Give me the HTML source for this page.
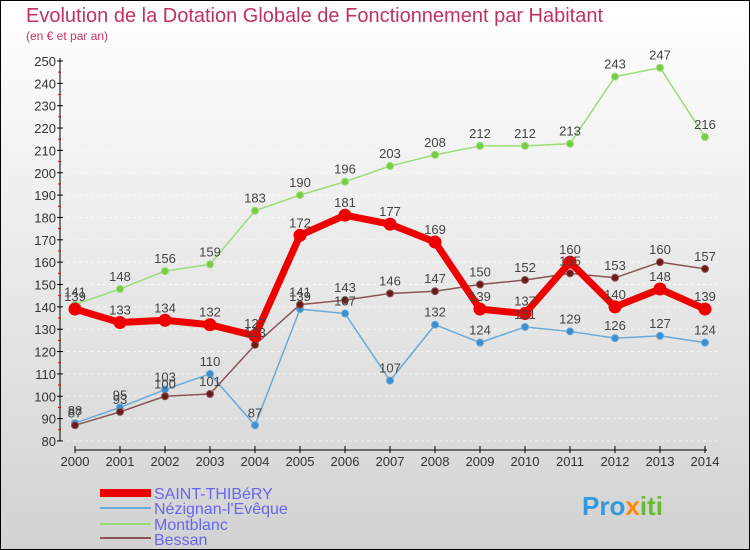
<!DOCTYPE html>
<html><head><meta charset="utf-8"><style>
body{margin:0;}
#c{width:750px;height:550px;position:relative;overflow:hidden;font-family:"Liberation Sans",sans-serif;}
</style></head><body>
<div id="c">
<svg id="s" width="750" height="550" xmlns="http://www.w3.org/2000/svg">
<defs><linearGradient id="bg" x1="0" y1="0" x2="0" y2="1"><stop offset="0" stop-color="#ffffff"/><stop offset="1" stop-color="#d2d2d2"/></linearGradient></defs>
<rect x="0.5" y="0.5" width="749" height="549" fill="url(#bg)" stroke="#000"/>
<text x="26" y="22" font-size="20" fill="#c0335f">Evolution de la Dotation Globale de Fonctionnement par Habitant</text>
<text x="26" y="40" font-size="12" fill="#c0335f">(en € et par an)</text>
<g id="grid"></g><g id="axes"></g><g id="series"></g><g id="labels"></g>
<g>
<rect x="100" y="489" width="51" height="8" fill="#ee0000"/>
<text x="154" y="499" font-size="16" fill="#6666ee">SAINT-THIBéRY</text>
<rect x="100" y="507" width="51" height="2" fill="#6aaad6"/>
<text x="154" y="514" font-size="16" fill="#6666ee">Nézignan-l'Evêque</text>
<rect x="100" y="523" width="51" height="2" fill="#99dd77"/>
<text x="154" y="530" font-size="16" fill="#6666ee">Montblanc</text>
<rect x="100" y="537" width="51" height="2" fill="#8b5555"/>
<text x="154" y="545" font-size="16" fill="#6666ee">Bessan</text>
</g>
<text x="582" y="515" font-size="26" font-weight="bold"><tspan fill="#3399dd">Pro</tspan><tspan fill="#ff8800">x</tspan><tspan fill="#66bb33">iti</tspan></text>
</svg></div>
<script>
const years=[2000,2001,2002,2003,2004,2005,2006,2007,2008,2009,2010,2011,2012,2013,2014];
const yTicks=[80,90,100,110,120,130,140,150,160,170,180,190,200,210,220,230,240,250];
const saint=[139,133,134,132,127,172,181,177,169,139,137,160,140,148,139];
const nezignan=[88,95,103,110,87,139,137,107,132,124,131,129,126,127,124];
const montblanc=[141,148,156,159,183,190,196,203,208,212,212,213,243,247,216];
const bessan=[87,93,100,101,123,141,143,146,147,150,152,155,153,160,157];
const NS="http://www.w3.org/2000/svg";
const X=i=>75+i*45.0;
const Y=v=>61+(250-v)*2.235;
function mk(t,a,p){const e=document.createElementNS(NS,t);for(const k in a)e.setAttribute(k,a[k]);p.appendChild(e);return e;}
const axes=document.getElementById('axes'),grid=document.getElementById('grid');
const ya=mk('line',{x1:60,y1:58,x2:60,y2:441,stroke:'#000'},axes);


yTicks.forEach(v=>{
 const g=mk('line',{x1:61,x2:720,y1:Y(v),y2:Y(v),stroke:'#fff','stroke-opacity':0.6,'stroke-dasharray':'3,3','stroke-width':1},grid);
 
 
 mk('line',{x1:57,x2:63,y1:Y(v),y2:Y(v),stroke:'#000'},axes);
 if(v<250) mk('line',{x1:58,x2:61,y1:Y(v)-11.2,y2:Y(v)-11.2,stroke:'#e00'},axes);
 const t=mk('text',{x:56,y:Y(v)+5,'font-size':13,'text-anchor':'end',fill:'#333'},axes);
 t.textContent=v;
 
 
});
const xa=mk('line',{x1:75,y1:450,x2:707,y2:450,stroke:'#000'},axes);


years.forEach((y,i)=>{
 mk('line',{x1:X(i),x2:X(i),y1:446,y2:453,stroke:'#000'},axes);
 const t=mk('text',{x:X(i),y:466,'font-size':13,'text-anchor':'middle',fill:'#333'},axes);
 t.textContent=y;
 
 
});
const S=document.getElementById('series'),L=document.getElementById('labels');
function series(d,name,col,w,r,fill){
 const g=mk('g',{},S);
 
 
 const pl=mk('polyline',{points:d.map((v,i)=>X(i)+','+Y(v)).join(' '),fill:'none',stroke:col,'stroke-width':w,'stroke-linejoin':'round'},g);
 
 
 d.forEach((v,i)=>{
  const c=mk('circle',{cx:X(i),cy:Y(v),r:r,fill:fill,stroke:col,'stroke-width':1},g);
  
  
  const t=mk('text',{x:X(i),y:Y(v)-8,'font-size':13,'text-anchor':'middle',fill:'#444'},L);
  t.textContent=v;
  
  
 });
}
series(montblanc,'montblanc','#99dd77',1.5,3.5,'#77cc44');
series(nezignan,'nezignan','#6aaad6',1.5,3.5,'#3b8fd0');
series(bessan,'bessan','#8b5555',1.5,3.5,'#6b1a1a');
series(saint,'saint-thibery','#ee0000',7,6,'#ee0000');
</script>
</body></html>
